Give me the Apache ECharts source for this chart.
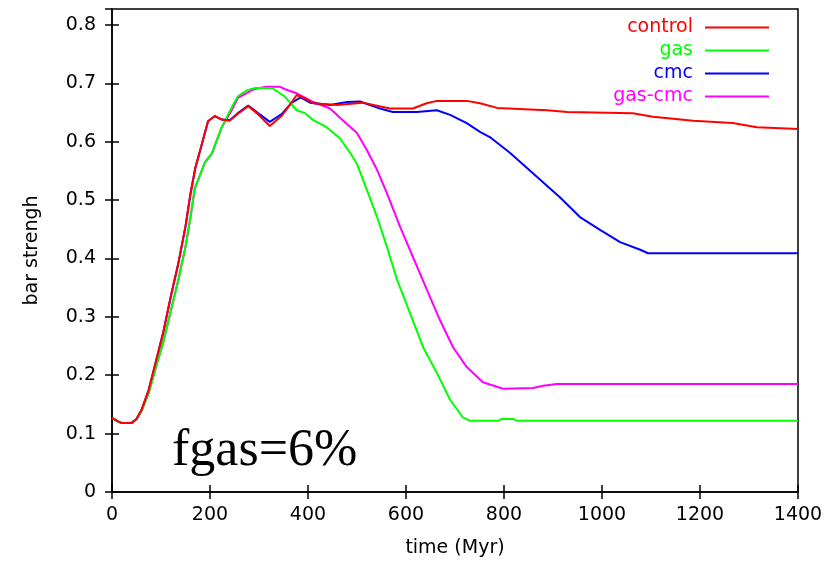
<!DOCTYPE html>
<html>
<head>
<meta charset="utf-8">
<script src="https://cdn.jsdelivr.net/npm/echarts@6/dist/echarts.min.js"></script>
<style>
html,body{margin:0;padding:0;background:#fff;}
#main{width:839px;height:561px;}
</style>
</head>
<body>
<div id="main"></div>
<script>
// ---- data ----
var xTicks = [0, 200, 400, 600, 800, 1000, 1200, 1400];
var yTicks = [0, 0.1, 0.2, 0.3, 0.4, 0.5, 0.6, 0.7, 0.8];

var controlTime = [0,10,20,40,50,60,75,90,105,120,135,150,160,170,184,196,210,224,240,257,278,298,322,347,367,377,395,411,459,512,567,614,642,663,724,751,786,888,929,1063,1104,1186,1267,1316,1400];
var controlVal  = [0.127,0.122,0.118,0.118,0.125,0.14,0.175,0.225,0.275,0.335,0.39,0.455,0.51,0.555,0.598,0.635,0.644,0.638,0.636,0.648,0.661,0.647,0.627,0.645,0.668,0.68,0.674,0.666,0.663,0.667,0.657,0.657,0.666,0.670,0.670,0.666,0.658,0.654,0.651,0.649,0.643,0.636,0.632,0.625,0.622];

var gasTime = [0,10,20,40,50,60,75,90,105,120,135,150,160,169,190,204,224,245,257,275,292,327,353,377,394,411,438,465,486,500,520,541,561,582,608,635,663,690,716,731,788,795,820,825,1400];
var gasVal  = [0.127,0.122,0.118,0.118,0.125,0.138,0.17,0.215,0.258,0.31,0.362,0.42,0.47,0.52,0.565,0.58,0.625,0.66,0.678,0.688,0.692,0.692,0.677,0.654,0.649,0.637,0.625,0.606,0.581,0.562,0.518,0.471,0.42,0.363,0.307,0.248,0.204,0.158,0.128,0.122,0.122,0.125,0.125,0.122,0.122];

var cmcTime = [0,10,20,40,50,60,75,90,105,120,135,150,160,170,184,196,210,224,240,257,278,298,322,347,367,385,404,445,480,506,547,573,622,663,690,724,751,771,812,867,914,955,996,1037,1078,1094,1400];
var cmcVal  = [0.127,0.122,0.118,0.118,0.125,0.14,0.175,0.225,0.275,0.335,0.39,0.455,0.51,0.555,0.598,0.635,0.644,0.638,0.637,0.649,0.662,0.649,0.634,0.648,0.667,0.676,0.667,0.663,0.668,0.669,0.657,0.651,0.651,0.654,0.646,0.632,0.617,0.608,0.581,0.54,0.505,0.471,0.449,0.428,0.415,0.409,0.409];

var gascmcTime = [0,10,20,40,50,60,75,90,105,120,135,150,160,169,190,204,224,245,257,290,312,343,353,377,411,445,471,500,520,541,561,588,614,643,669,696,724,757,798,859,880,908,1400];
var gascmcVal  = [0.127,0.122,0.118,0.118,0.125,0.138,0.17,0.215,0.258,0.31,0.362,0.42,0.47,0.52,0.565,0.58,0.625,0.655,0.675,0.69,0.694,0.694,0.69,0.683,0.668,0.657,0.637,0.615,0.586,0.552,0.512,0.454,0.403,0.346,0.295,0.248,0.214,0.188,0.177,0.178,0.182,0.185,0.185];

var seriesNames = ['control', 'gas', 'cmc', 'gas-cmc'];
var seriesColors = ['#ff0000', '#00ff00', '#0000ff', '#ff00ff'];
var annotation = 'fgas=6%';

function zip(t, v) { return t.map(function (x, i) { return [x, v[i]]; }); }
var allData = [zip(controlTime, controlVal), zip(gasTime, gasVal), zip(cmcTime, cmcVal), zip(gascmcTime, gascmcVal)];

var FONT = '"DejaVu Sans", sans-serif';
var chart = echarts.init(document.getElementById('main'), null, {renderer: 'canvas'});

var yMax = 0.8274;

chart.setOption({
  animation: false,
  backgroundColor: '#ffffff',
  grid: {left: 112, right: 41, top: 9, bottom: 69, show: true, borderColor: '#000', borderWidth: 1.5,
         outerBoundsMode: 'none', containLabel: false},
  legend: {
    orient: 'vertical', align: 'right', right: 70, top: 18, padding: 0,
    itemWidth: 64, itemHeight: 2, itemGap: 4, icon: 'rect',
    data: seriesNames.map(function (n, i) {
      return {name: n, icon: 'rect', textStyle: {color: seriesColors[i]}};
    }),
    textStyle: {fontFamily: FONT, fontSize: 19, padding: [0, 7, 0, 0]}
  },
  xAxis: [{
    type: 'value', min: 0, max: 1400, interval: 200,
    name: 'time (Myr)', nameLocation: 'middle', nameGap: 47,
    nameTextStyle: {fontFamily: FONT, fontSize: 19, color: '#000'},
    axisLine: {show: true, lineStyle: {color: '#000', width: 1.5}},
    axisTick: {show: true, inside: true, length: 7, lineStyle: {color: '#000', width: 1.5}},
    axisLabel: {fontFamily: FONT, fontSize: 19, color: '#000', margin: 14,
      formatter: function (v) { return xTicks.indexOf(v) >= 0 ? String(v) : ''; }},
    splitLine: {show: false}
  }, {
    type: 'value', min: 0, max: 1400, interval: 200, position: 'top',
    axisLine: {show: false},
    axisTick: {show: true, inside: true, length: 7, lineStyle: {color: '#000', width: 1.5}},
    axisLabel: {show: false}, splitLine: {show: false}
  }],
  yAxis: [{
    type: 'value', min: 0, max: yMax, interval: 0.1,
    name: 'bar strengh', nameLocation: 'middle', nameGap: 70,
    nameTextStyle: {fontFamily: FONT, fontSize: 19, color: '#000'},
    axisLine: {show: true, lineStyle: {color: '#000', width: 1.5}},
    axisTick: {show: true, inside: true, length: 7, lineStyle: {color: '#000', width: 1.5}},
    axisLabel: {fontFamily: FONT, fontSize: 19, color: '#000', margin: 16, showMaxLabel: false,
      formatter: function (v) {
        for (var i = 0; i < yTicks.length; i++) { if (Math.abs(yTicks[i] - v) < 1e-6) return String(yTicks[i]); }
        return '';
      }},
    splitLine: {show: false}
  }, {
    type: 'value', min: 0, max: yMax, interval: 0.1, position: 'right',
    axisLine: {show: false},
    axisTick: {show: true, inside: true, length: 7, lineStyle: {color: '#000', width: 1.5}},
    axisLabel: {show: false}, splitLine: {show: false}
  }],
  series: seriesNames.map(function (n, i) {
    return {
      name: n, type: 'line', xAxisIndex: 0, yAxisIndex: 0,
      data: allData[i], symbol: 'none', showSymbol: false,
      lineStyle: {color: seriesColors[i], width: 2},
      itemStyle: {color: seriesColors[i]},
      z: 10 - i
    };
  }),
  graphic: [{
    type: 'text', left: 172, top: 425,
    style: {text: annotation, font: '52px "Liberation Serif", "Times New Roman", serif', fill: '#000'}
  }]
});
</script>
</body>
</html>
